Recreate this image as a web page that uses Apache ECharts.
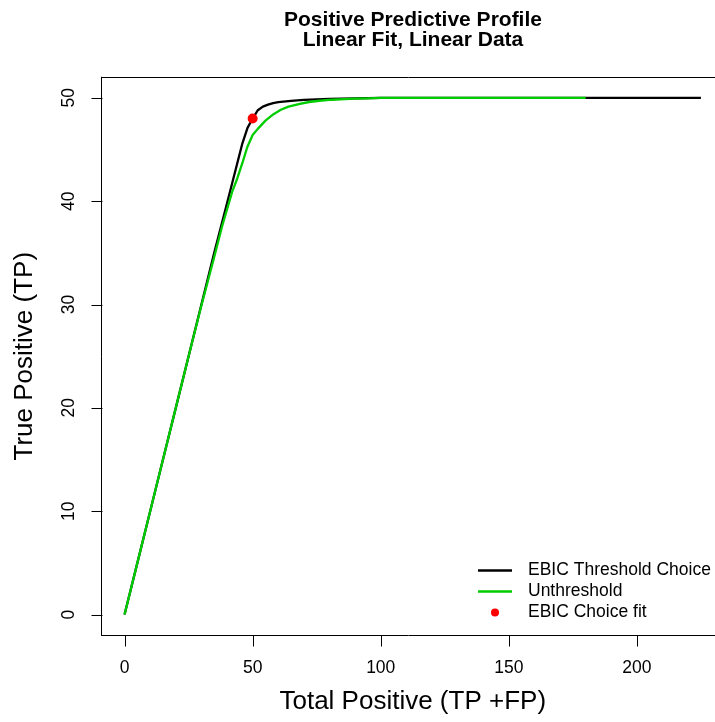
<!DOCTYPE html>
<html>
<head>
<meta charset="utf-8">
<script src="https://cdn.jsdelivr.net/npm/echarts@6.0.0/dist/echarts.min.js"></script>
<style>
  html, body { margin: 0; padding: 0; background: #fff; }
  #root { width: 715px; height: 722px; }
</style>
</head>
<body>
<div id="root"></div>
<script>
// EBIC threshold choice curve
const ebicX = [0, 5, 10, 15, 20, 25, 30, 35, 40, 43, 46, 48, 50, 52, 54, 56, 58, 60, 65, 70, 75, 80, 90, 100, 120, 150, 180, 200, 225]
const ebicY = [0, 5, 10, 15, 20, 25, 30, 35, 39.8, 42.7, 45.6, 47.1, 48.0, 48.8, 49.15, 49.35, 49.5, 49.58, 49.7, 49.8, 49.86, 49.9, 49.96, 50, 50, 50, 50, 50, 50]

// unthresholded curve
const unthX = [0, 5, 10, 15, 20, 25, 30, 35, 38, 40, 42, 44, 46, 48, 50, 52, 55, 58, 61, 64, 68, 72, 76, 81, 86, 90, 95, 100, 120, 150, 180]
const unthY = [0, 5, 10, 15, 20, 25, 29.9, 34.6, 37.5, 39.2, 40.9, 42.2, 43.7, 45.3, 46.4, 47.0, 47.8, 48.4, 48.85, 49.15, 49.4, 49.6, 49.72, 49.82, 49.88, 49.92, 49.96, 50, 50, 50, 50]

// chosen fit
const choiceX = [50]
const choiceY = [48]

const xTicks = [0, 50, 100, 150, 200]
const yTicks = [0, 10, 20, 30, 40, 50]

const font = 'Liberation Sans, Arial, Helvetica, sans-serif'
const lineIcon = 'path://M0,0H34V2.3H0Z'

const xMin = -9
const xMax = 234
const yMin = -2
const yMax = 52
const tickLen = 11

const chart = echarts.init(document.getElementById('root'))

const pairs = (xs, ys) => xs.map((x, i) => [x, ys[i]])

const axisFont = { fontFamily: font, fontSize: 17.5, color: '#000' }
const blackLine = { color: '#000', width: 1 }

// outward tick marks, drawn through the axis scales
const tickSeries = (data, dx, dy) => ({
  type: 'custom',
  silent: true,
  clip: false,
  z: 10,
  data: data,
  renderItem: (params, api) => {
    const p = api.coord([api.value(0), api.value(1)])
    const x = Math.round(p[0]) + 0.5
    const y = Math.round(p[1]) + 0.5
    return {
      type: 'line',
      shape: { x1: x, y1: y, x2: x + dx, y2: y + dy },
      style: { stroke: '#000', lineWidth: 1 }
    }
  }
})

const option = {
  animation: false,
  backgroundColor: '#fff',
  tooltip: { show: false },
  title: {
    text: 'Positive Predictive Profile\nLinear Fit, Linear Data',
    left: 413,
    top: 10,
    textAlign: 'center',
    padding: 0,
    textStyle: { fontFamily: font, fontSize: 21, fontWeight: 'bold', color: '#000', lineHeight: 20 }
  },
  // the plot box runs past the right edge of the window
  grid: {
    left: 101.5,
    top: 77.2,
    width: 622.5,
    height: 558,
    outerBoundsMode: 'none',
    show: false
  },
  legend: {
    orient: 'vertical',
    left: 478,
    top: 560,
    itemWidth: 34,
    itemHeight: 8,
    itemGap: 0,
    padding: 0,
    textStyle: { fontFamily: font, fontSize: 17.5, color: '#000', lineHeight: 21, padding: [0, 0, 0, 11] },
    data: [
      { name: 'EBIC Threshold Choice', icon: lineIcon },
      { name: 'Unthreshold', icon: lineIcon },
      { name: 'EBIC Choice fit', icon: 'circle' }
    ]
  },
  xAxis: [
    {
      type: 'value',
      min: xMin,
      max: xMax,
      position: 'bottom',
      name: 'Total Positive (TP +FP)',
      nameLocation: 'middle',
      nameGap: 54,
      nameTextStyle: { fontFamily: font, fontSize: 26, color: '#000' },
      axisLine: { show: true, onZero: false, lineStyle: blackLine },
      axisTick: { show: false },
      axisLabel: Object.assign({ margin: 24, customValues: xTicks }, axisFont),
      splitLine: { show: false }
    },
    {
      // top edge of the box
      type: 'value',
      min: xMin,
      max: xMax,
      position: 'top',
      axisLine: { show: true, onZero: false, lineStyle: blackLine },
      axisTick: { show: false },
      axisLabel: { show: false },
      splitLine: { show: false }
    }
  ],
  yAxis: {
    type: 'value',
    min: yMin,
    max: yMax,
    name: 'True Positive (TP)',
    nameLocation: 'middle',
    nameGap: 64,
    nameTextStyle: { fontFamily: font, fontSize: 26, color: '#000' },
    axisLine: { show: true, onZero: false, lineStyle: blackLine },
    axisTick: { show: false },
    axisLabel: Object.assign({ margin: 23, rotate: 90, customValues: yTicks }, axisFont),
    splitLine: { show: false }
  },
  series: [
    {
      name: 'EBIC Threshold Choice',
      type: 'line',
      data: pairs(ebicX, ebicY),
      symbol: 'none',
      lineStyle: { color: '#000', width: 2.3 },
      itemStyle: { color: '#000' },
      z: 2
    },
    {
      name: 'Unthreshold',
      type: 'line',
      data: pairs(unthX, unthY),
      symbol: 'none',
      lineStyle: { color: '#00cd00', width: 2.3 },
      itemStyle: { color: '#00cd00' },
      z: 3
    },
    {
      name: 'EBIC Choice fit',
      type: 'scatter',
      data: pairs(choiceX, choiceY),
      symbol: 'circle',
      symbolSize: 10,
      itemStyle: { color: '#ff0000', opacity: 1 },
      z: 4
    },
    tickSeries(xTicks.map(v => [v, yMin]), 0, tickLen),
    tickSeries(yTicks.map(v => [xMin, v]), -tickLen, 0)
  ]
}

chart.setOption(option)
</script>
</body>
</html>
